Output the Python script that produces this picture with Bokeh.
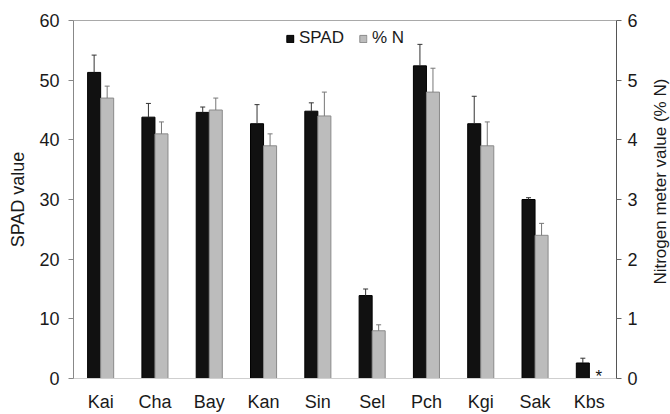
import math
from bokeh.plotting import figure
from bokeh.layouts import row
from bokeh.models import (Range1d, LinearAxis, FixedTicker, ColumnDataSource,
                          Legend, LegendItem, Span)
from bokeh.core.properties import value
from bokeh.embed import file_html
from bokeh.resources import INLINE

categories = ["Kai", "Cha", "Bay", "Kan", "Sin", "Sel", "Pch", "Kgi", "Sak", "Kbs"]
spad = [51.3, 43.8, 44.6, 42.7, 44.8, 13.9, 52.4, 42.7, 30.0, 2.6]
spad_err = [2.9, 2.3, 0.9, 3.2, 1.4, 1.1, 3.6, 4.6, 0.3, 0.8]
nitrogen = [4.7, 4.1, 4.5, 3.9, 4.4, 0.8, 4.8, 3.9, 2.4, None]
nitrogen_err = [0.2, 0.2, 0.2, 0.2, 0.4, 0.1, 0.4, 0.4, 0.2, None]
spad_ticks = [0, 10, 20, 30, 40, 50, 60]
n_ticks = [0, 1, 2, 3, 4, 5, 6]
right_title = "Nitrogen meter value (% N)"

FONT = "Liberation Sans"
OFF = 0.12
BW = 0.24

xs = list(range(len(categories)))
spad_src = ColumnDataSource(dict(
    x=[i - OFF for i in xs], top=spad,
    up=[v + e for v, e in zip(spad, spad_err)]))
n_idx = [i for i in xs if nitrogen[i] is not None]
n_src = ColumnDataSource(dict(
    x=[i + OFF for i in n_idx], top=[nitrogen[i] for i in n_idx],
    up=[nitrogen[i] + nitrogen_err[i] for i in n_idx]))
miss_idx = [i for i in xs if nitrogen[i] is None]

p = figure(width=645, height=414, output_backend="svg", toolbar_location=None,
           x_range=Range1d(-0.5, len(categories) - 0.5),
           y_range=Range1d(spad_ticks[0], spad_ticks[-1]),
           min_border_left=73, min_border_right=29, min_border_top=20,
           min_border_bottom=35)
p.extra_y_ranges = {"n": Range1d(n_ticks[0], n_ticks[-1])}
p.xgrid.visible = False
p.ygrid.visible = False
p.outline_line_color = None
p.background_fill_color = "white"

# bars
r_spad = p.vbar(x="x", top="top", bottom=0, width=BW, source=spad_src,
                fill_color="#111111", line_color="#000000", line_width=1)
r_n = p.vbar(x="x", top="top", bottom=0, width=BW, source=n_src,
             fill_color="#bcbcbc", line_color="#8a8a8a", line_width=1,
             y_range_name="n")

# error bars
p.segment(x0="x", y0="top", x1="x", y1="up", source=spad_src,
          line_color="#333333", line_width=1)
p.scatter(x="x", y="up", source=spad_src, marker="dash", size=5,
          line_color="#333333", line_width=1)
p.segment(x0="x", y0="top", x1="x", y1="up", source=n_src,
          line_color="#777777", line_width=1, y_range_name="n")
p.scatter(x="x", y="up", source=n_src, marker="dash", size=5,
          line_color="#777777", line_width=1, y_range_name="n")

# asterisk for missing N
p.text(x=[i + OFF for i in miss_idx], y=[0] * len(miss_idx), text=["*"] * len(miss_idx),
       y_range_name="n", text_font=value(FONT), text_font_size="17px",
       text_align="center", text_baseline="alphabetic", text_color="#111111",
       x_offset=3, y_offset=-2)

# top border
p.add_layout(Span(location=spad_ticks[-1], dimension="width",
                  line_color="#555555", line_width=1))

# x axis
xa = p.xaxis[0]
xa.ticker = FixedTicker(ticks=xs)
xa.major_label_overrides = {i: c for i, c in enumerate(categories)}
xa.major_tick_out = 0
xa.major_tick_in = 0
xa.minor_tick_line_color = None
xa.axis_line_color = "#cfcfcf"
xa.major_label_standoff = 13
xa.major_label_text_font = FONT
xa.major_label_text_font_size = "18px"
xa.major_label_text_color = "#1a1a1a"

# left axis
ya = p.yaxis[0]
ya.ticker = FixedTicker(ticks=spad_ticks)
ya.major_tick_out = 5
ya.major_tick_in = 0
ya.minor_tick_line_color = None
ya.axis_line_color = "#888888"
ya.major_tick_line_color = "#888888"
ya.major_label_standoff = 9
ya.major_label_text_font = FONT
ya.major_label_text_font_size = "18px"
ya.major_label_text_color = "#1a1a1a"
ya.axis_label = "SPAD value"
ya.axis_label_text_font = FONT
ya.axis_label_text_font_size = "18px"
ya.axis_label_text_font_style = "normal"
ya.axis_label_text_color = "#1a1a1a"
ya.axis_label_standoff = 8

# right axis
ra = LinearAxis(y_range_name="n", ticker=FixedTicker(ticks=n_ticks))
ra.major_tick_out = 5
ra.major_tick_in = 0
ra.minor_tick_line_color = None
ra.axis_line_color = "#555555"
ra.major_tick_line_color = "#666666"
ra.major_label_standoff = 6
ra.major_label_text_font = FONT
ra.major_label_text_font_size = "18px"
ra.major_label_text_color = "#1a1a1a"
p.add_layout(ra, "right")

legend = Legend(items=[LegendItem(label="SPAD", renderers=[r_spad]),
                       LegendItem(label="% N", renderers=[r_n])],
                location="top_center", orientation="horizontal",
                glyph_width=9, glyph_height=9, label_standoff=5, spacing=14,
                label_text_font=FONT, label_text_font_size="17px",
                label_text_color="#1a1a1a", border_line_color=None,
                background_fill_alpha=0, padding=0, margin=8)
p.add_layout(legend)

# narrow strip holding the right-hand axis title, reading bottom-to-top
p2 = figure(width=25, height=414, output_backend="svg", toolbar_location=None,
            x_range=Range1d(0, 1), y_range=Range1d(0, 1),
            min_border_left=0, min_border_right=0, min_border_top=0,
            min_border_bottom=0)
p2.axis.visible = False
p2.grid.visible = False
p2.outline_line_color = None
p2.text(x=[0.6], y=[0.55], text=[right_title], angle=math.pi / 2,
        text_font=value(FONT), text_font_size="17px", text_align="center",
        text_baseline="middle", text_color="#1a1a1a")

layout = row(p, p2, spacing=0)
open("out.html", "w").write(file_html(layout, INLINE))
